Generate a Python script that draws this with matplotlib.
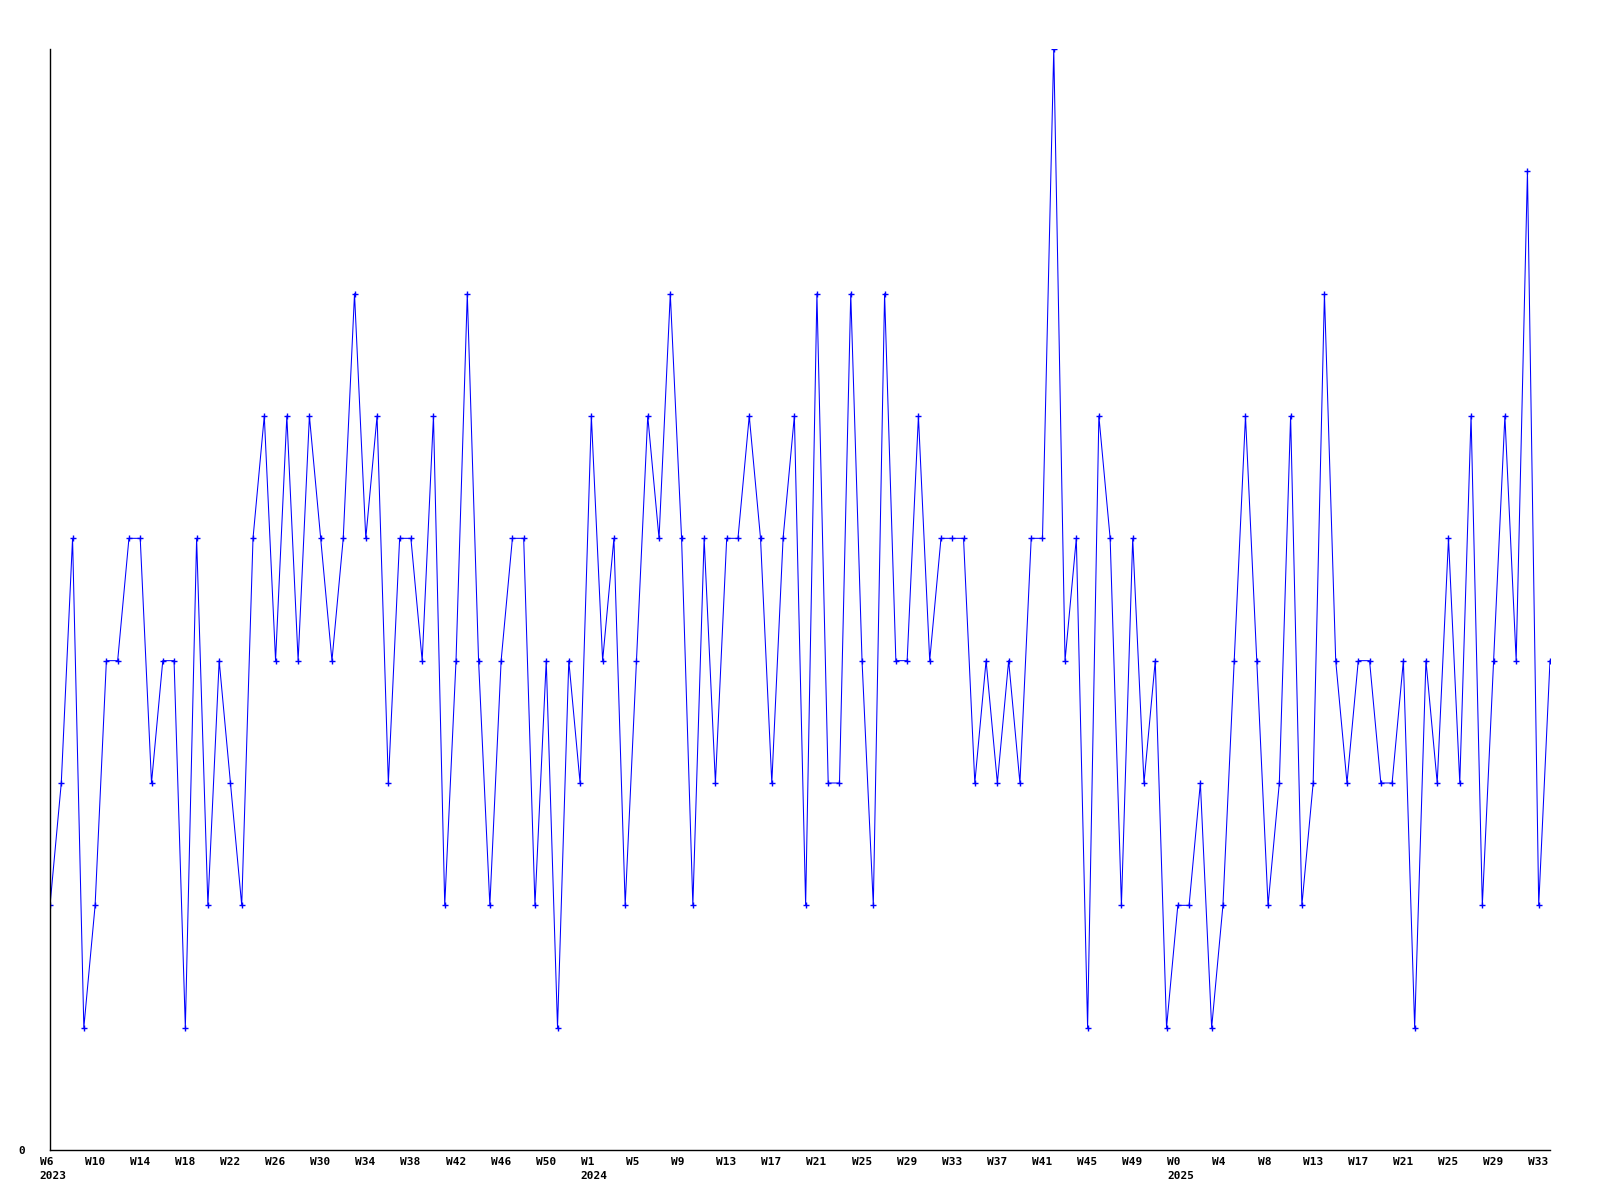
import numpy as np
import matplotlib
matplotlib.use("Agg")
import matplotlib.pyplot as plt
from matplotlib.transforms import ScaledTranslation

# weekly counts, 2023 W6 .. 2025 W33
values_2023 = [2, 3, 5, 1, 2, 4, 4, 5, 5, 3, 4, 4, 1, 5, 2, 4, 3, 2,
               5, 6, 4, 6, 4, 6, 5, 4, 5, 7, 5, 6, 3, 5, 5, 4, 6, 2,
               4, 7, 4, 2, 4, 5, 5, 2, 4, 1, 4, 3]
values_2024 = [6, 4, 5, 2, 4, 6, 5, 7, 5, 2, 5, 3, 5, 5, 6, 5, 3, 5,
               6, 2, 7, 3, 3, 7, 4, 2, 7, 4, 4, 6, 4, 5, 5, 5, 3, 4,
               3, 4, 3, 5, 5, 9, 4, 5, 1, 6, 5, 2, 5, 3, 4, 1]
values_2025 = [2, 2, 3, 1, 2, 4, 6, 4, 2, 3, 6, 2, 3, 7, 4, 3, 4, 4,
               3, 3, 4, 1, 4, 3, 5, 3, 6, 2, 4, 6, 4, 8, 2, 4]

labels_2023 = ["W6", "W10", "W14", "W18", "W22", "W26", "W30", "W34",
               "W38", "W42", "W46", "W50"]
labels_2024 = ["W1", "W5", "W9", "W13", "W17", "W21", "W25", "W29",
               "W33", "W37", "W41", "W45", "W49"]
labels_2025 = ["W0", "W4", "W8", "W13", "W17", "W21", "W25", "W29", "W33"]
years = ["2023", "2024", "2025"]

values = values_2023 + values_2024 + values_2025
x = np.arange(len(values))

tick_labels = []
for year, labs in zip(years, [labels_2023, labels_2024, labels_2025]):
    for k, lab in enumerate(labs):
        tick_labels.append(lab + "\n" + year if k == 0 else lab)
tick_pos = np.arange(0, len(values), 4)[:len(tick_labels)]

fig = plt.figure(figsize=(16, 12), dpi=100)
ax = fig.add_axes([50 / 1600, 50 / 1200, 1500 / 1600, 1101 / 1200])

ax.plot(x, values, color="#0000ff", lw=0.75, marker="+", ms=4, mew=1.0)

ax.set_xlim(0, len(values) - 1)
ax.set_ylim(0, max(values))

for s in ["top", "right"]:
    ax.spines[s].set_visible(False)
for s in ["left", "bottom"]:
    ax.spines[s].set_linewidth(1.0)
    ax.spines[s].set_color("black")

font = dict(family="DejaVu Sans Mono", weight="bold", size=8)

ax.set_yticks([0])
ax.set_yticklabels(["0"], **font)
ax.tick_params(axis="y", length=0, pad=18)

ax.set_xticks(tick_pos)
ax.set_xticklabels(tick_labels, linespacing=1.5, **font)
ax.tick_params(axis="x", length=0, pad=5)
shift = ScaledTranslation(-10.5 / 100, 0, fig.dpi_scale_trans)
for lab in ax.get_xticklabels():
    lab.set_horizontalalignment("left")
    lab.set_transform(lab.get_transform() + shift)

fig.savefig("out.png", dpi=100)
